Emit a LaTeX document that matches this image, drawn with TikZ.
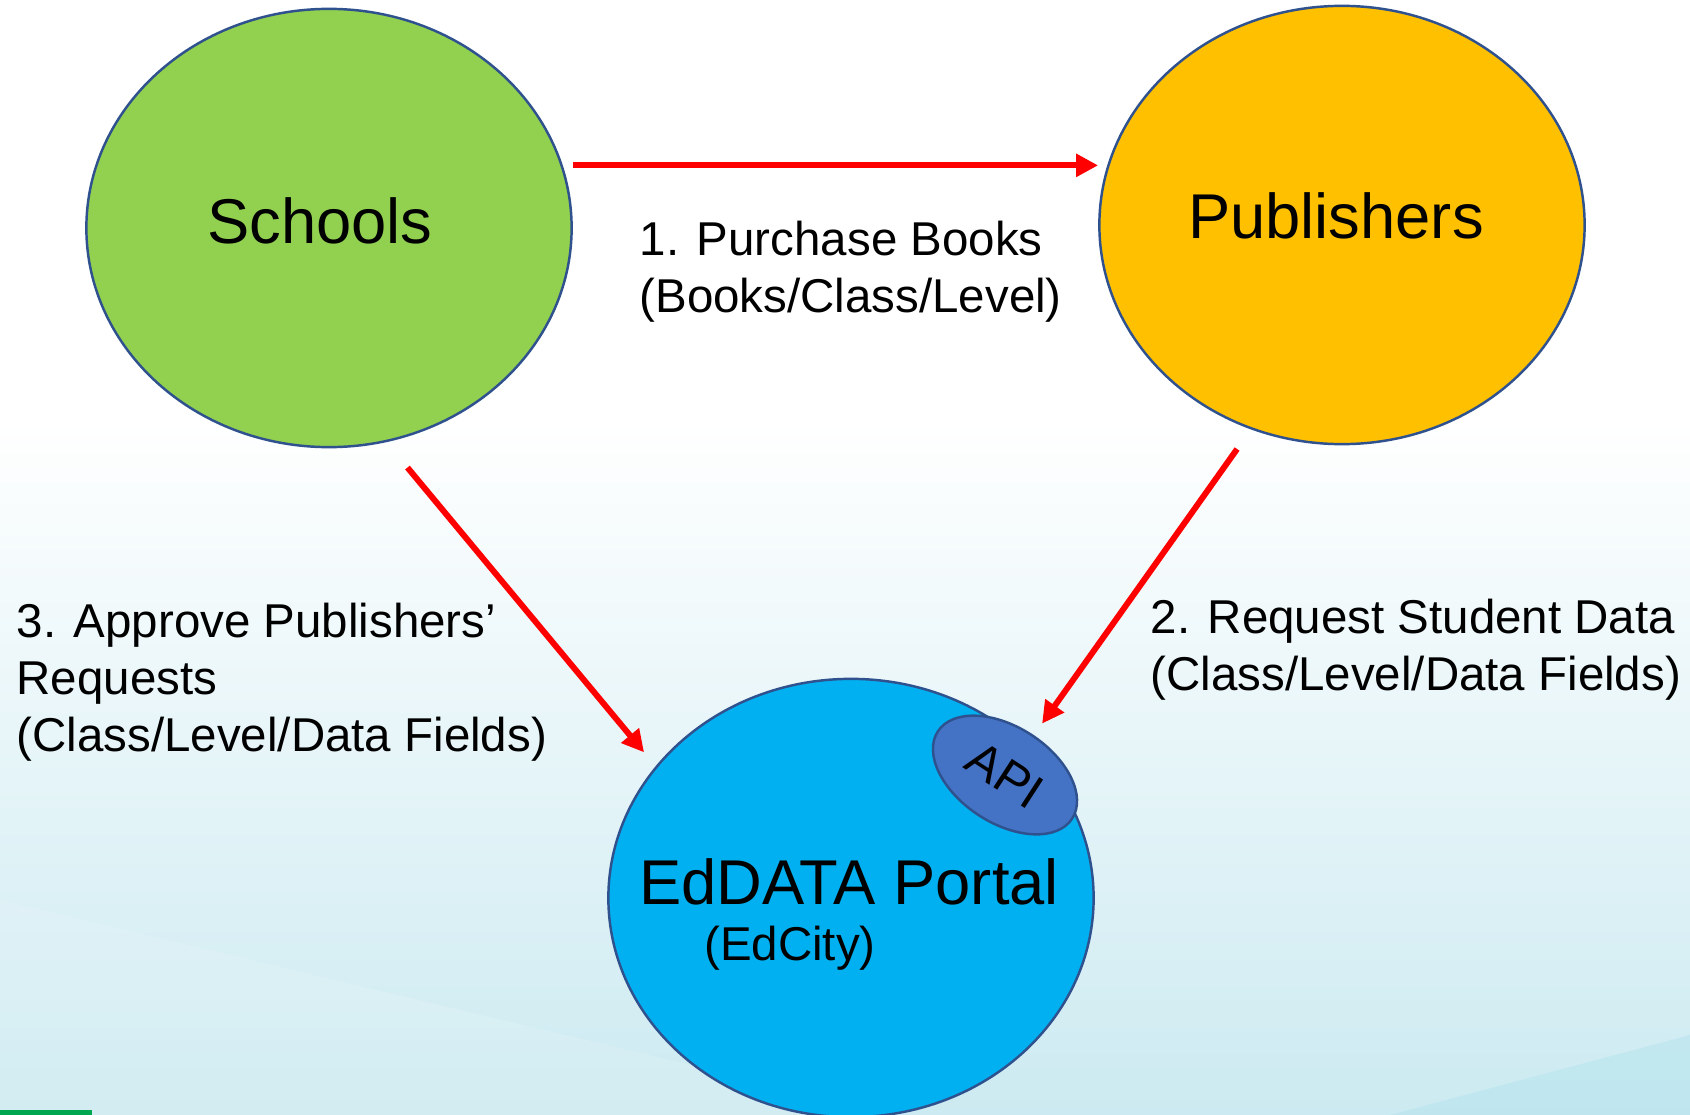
\documentclass[tikz,border=0pt]{standalone}
\usepackage{fontspec}
\setmainfont{Liberation Sans}
\usetikzlibrary{arrows.meta,shapes.geometric,positioning}
\definecolor{schoolgreen}{RGB}{146,208,80}
\definecolor{pubgold}{RGB}{255,192,0}
\definecolor{portalblue}{RGB}{0,176,240}
\definecolor{apiblue}{RGB}{68,114,196}
\definecolor{rimblue}{RGB}{47,82,143}
\definecolor{bgmid}{RGB}{232,245,249}
\definecolor{bgcyan}{RGB}{204,234,241}
\definecolor{bgwedge}{RGB}{180,228,238}
\definecolor{brandgreen}{RGB}{0,166,80}

\begin{document}
\begin{tikzpicture}[x=0.01cm,y=-0.01cm,
    party/.style={ellipse, draw=rimblue, line width=0.7pt, minimum width=4.85cm, minimum height=4.38cm, inner sep=0pt},
    flow/.style={draw=red, line width=1.7pt, -{Triangle[length=0.22cm,width=0.22cm]}},
    big/.style={font=\fontsize{18}{21.6}\selectfont},
    note/.style={anchor=west, align=left, inner sep=0pt, font=\fontsize{13.5}{16.2}\selectfont}]
    \useasboundingbox (0,0) rectangle (1690,1115);
    % background
    \fill[white] (0,0) rectangle (1690,420);
    \shade[top color=white, middle color=bgmid, bottom color=bgcyan] (0,420) rectangle (1690,1115);
    \fill[white, opacity=0.12] (0,900) -- (900,1115) -- (0,1115) -- cycle;
    \fill[bgwedge, opacity=0.5] (1390,1115) -- (1690,1035) -- (1690,1115) -- cycle;
    \fill[brandgreen] (0,1110) rectangle (92,1115);
    % the three parties
    \node at (329,228) [party, fill=schoolgreen] (schools) {};
    \node at (1342,225) [party, fill=pubgold] (publishers) {};
    \node at (851,898) [party, fill=portalblue] (eddata) {};
    \node at (1005,775) [ellipse, draw=rimblue, line width=0.7pt, fill=apiblue, minimum width=1.6cm, minimum height=0.96cm, inner sep=0pt, rotate=-33, font=\fontsize{14}{16}\selectfont] (api) {API};
    \node at (320,221) [big] {Schools};
    \node at (1336,216) [big] {Publishers};
    \node at (849,882) [big] {EdDATA Portal};
    \node at (790,948) [font=\fontsize{13.5}{16.2}\selectfont] {(EdCity)};
    % requests
    \draw[flow, shorten <=0.1cm] (schools.15) -- (schools.15 -| publishers.west);
    \draw[flow, shorten <=0.24cm, shorten >=0.265cm] (publishers.-114.5) -- (eddata.41.2);
    \draw[flow, shorten <=0.33cm, shorten >=0.18cm] (schools.-75.9) -- (eddata.146.2);
    \node at (639,272) [note] {1. Purchase Books\\(Books/Class/Level)};
    \node at (1150,650) [note] {2. Request Student Data\\(Class/Level/Data Fields)};
    \node at (16,682) [note] {3. Approve Publishers’\\Requests\\(Class/Level/Data Fields)};
\end{tikzpicture}
\end{document}
